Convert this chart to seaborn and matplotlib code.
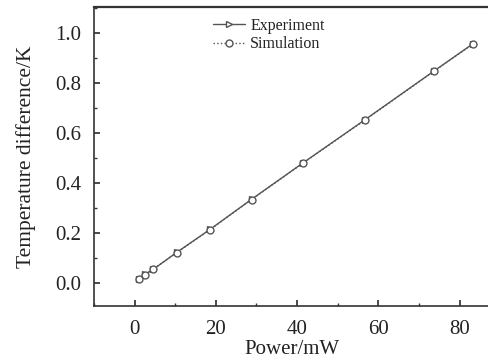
import matplotlib
matplotlib.use("Agg")
import matplotlib.pyplot as plt
import seaborn as sns
import pandas as pd
from matplotlib.ticker import MultipleLocator

power = [1.1, 2.6, 4.6, 10.4, 18.6, 28.8, 41.5, 56.7, 73.8, 83.3]
exp_dt = [0.016, 0.036, 0.056, 0.124, 0.216, 0.336, 0.482, 0.654, 0.850, 0.958]
sim_dt = [0.017, 0.035, 0.057, 0.123, 0.215, 0.335, 0.481, 0.653, 0.849, 0.957]

sns.set_theme(style="ticks")
plt.rcParams["font.family"] = ["Liberation Serif", "DejaVu Serif"]

df = pd.concat([
    pd.DataFrame({"power": power, "dt": exp_dt, "series": "Experiment"}),
    pd.DataFrame({"power": power, "dt": sim_dt, "series": "Simulation"}),
])

fig = plt.figure(figsize=(4.89, 3.62), dpi=100)
ax = fig.add_axes([0.192, 0.155, 0.812, 0.826])
ink = "#555555"
styles = {"Experiment": dict(ls="-", marker=">"), "Simulation": dict(ls=":", marker="o")}
for name, sub in df.groupby("series"):
    sns.lineplot(data=sub, x="power", y="dt", ax=ax, color=ink, lw=1.0,
                 linestyle=styles[name]["ls"], marker=styles[name]["marker"],
                 markersize=5, markerfacecolor="white", markeredgecolor=ink,
                 markeredgewidth=1.0, label=name)

ax.set_xlim(-10, 87.7)
ax.set_ylim(-0.09, 1.105)
ax.xaxis.set_major_locator(MultipleLocator(20))
ax.xaxis.set_minor_locator(MultipleLocator(10))
ax.yaxis.set_major_locator(MultipleLocator(0.2))
ax.yaxis.set_minor_locator(MultipleLocator(0.1))
ax.yaxis.set_major_formatter(matplotlib.ticker.FormatStrFormatter("%.1f"))
ax.tick_params(which="both", direction="in", color="#333333", labelsize=15, labelcolor="#222222")
ax.tick_params(which="major", length=4)
ax.tick_params(which="minor", length=2.5)
ax.tick_params(axis="x", pad=10)
ax.tick_params(axis="y", pad=9)
ax.spines["right"].set_visible(False)
ax.spines["top"].set_linewidth(1.6)
for s in ["left", "bottom"]:
    ax.spines[s].set_linewidth(1.2)
for s in ax.spines.values():
    s.set_color("#333333")
ax.set_xlabel("Power/mW", fontsize=15, color="#222222", labelpad=1)
ax.set_ylabel("Temperature difference/K", fontsize=15.5, color="#222222", labelpad=14)
leg = ax.legend(loc="upper left", bbox_to_anchor=(0.285, 0.985), frameon=False,
                fontsize=11.5, handlelength=2.0, handletextpad=0.3, labelspacing=0.15,
                borderaxespad=0)
for t in leg.get_texts():
    t.set_color("#222222")

fig.savefig("out.png", dpi=100)
